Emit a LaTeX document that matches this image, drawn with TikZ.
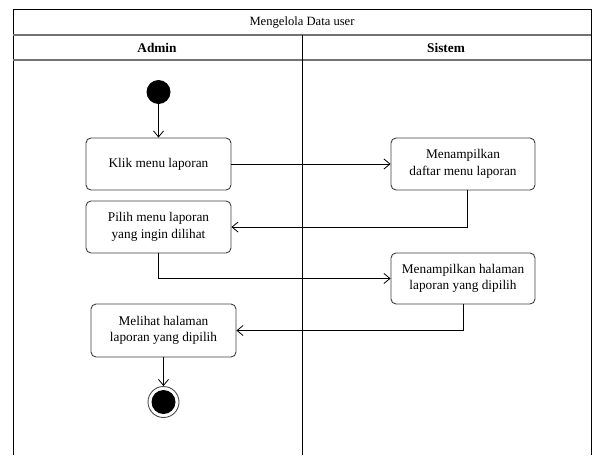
\documentclass[tikz,border=0pt]{standalone}
\usepackage{fontspec}
\setmainfont{Liberation Serif}
\usetikzlibrary{arrows.meta}
\begin{document}
\begin{tikzpicture}[x=1pt,y=-1pt,
  frameline/.style={draw=black,line width=1pt},
  sepline/.style={draw=black!55,line width=1.4pt},
  action/.style={draw=black!75,line width=0.9pt,rounded corners=5pt,align=center,
    font=\fontsize{13.3}{16.5}\selectfont,inner sep=0pt},
  flow/.style={draw=black,line width=0.8pt,-{Straight Barb[length=6pt,width=10pt,line width=0.8pt]}},
  lanehead/.style={font=\fontsize{13.3}{16}\selectfont\bfseries},
]
\useasboundingbox (0,0) rectangle (593,455);
\fill[white] (0,0) rectangle (593,455);

% swimlane frame
\draw[frameline] (13,455) -- (13,9.5) -- (591,9.5) -- (591,455);
\draw[sepline] (13,35) -- (591,35);
\draw[sepline] (13,60) -- (591,60);
\draw[frameline] (302,35) -- (302,455);
\node[font=\fontsize{12.6}{15}\selectfont] (title) at (302,22) {Mengelola Data user};
\node[lanehead] (admin) at (157,47.5) {Admin};
\node[lanehead] (sistem) at (446,47.5) {Sistem};

% activities
\node[action,minimum width=145pt,minimum height=52pt] (klik) at (158.5,164) {Klik menu laporan};
\node[action,minimum width=145pt,minimum height=52pt] (pilih) at (158.5,227) {Pilih menu laporan\\yang ingin dilihat};
\node[action,minimum width=144pt,minimum height=52pt] (daftar) at (463,164) {Menampilkan\\daftar menu laporan};
\node[action,minimum width=144pt,minimum height=51pt] (halaman) at (463,278.5) {Menampilkan halaman\\laporan yang dipilih};
\node[action,minimum width=145pt,minimum height=53pt] (melihat) at (163.5,330.5) {Melihat halaman\\laporan yang dipilih};

% initial and final states
\node[circle,fill=black,minimum size=24pt,inner sep=0pt] (start) at (158.5,92) {};
\node[circle,draw=black!70,line width=0.9pt,fill=white,minimum size=31pt,inner sep=0pt] (stop) at (163.5,402) {};
\node[circle,fill=black,minimum size=24pt,inner sep=0pt] (stopdot) at (stop) {};

% control flow
\draw[flow] (start) -- (klik);
\draw[flow] (klik) -- (daftar);
\draw[flow] ([xshift=4pt]daftar.south) |- (pilih.east);
\draw[flow] (pilih.south) |- (halaman.west);
\draw[flow] (halaman.south) |- (melihat.east);
\draw[flow] (melihat) -- (stop);
\end{tikzpicture}
\end{document}
